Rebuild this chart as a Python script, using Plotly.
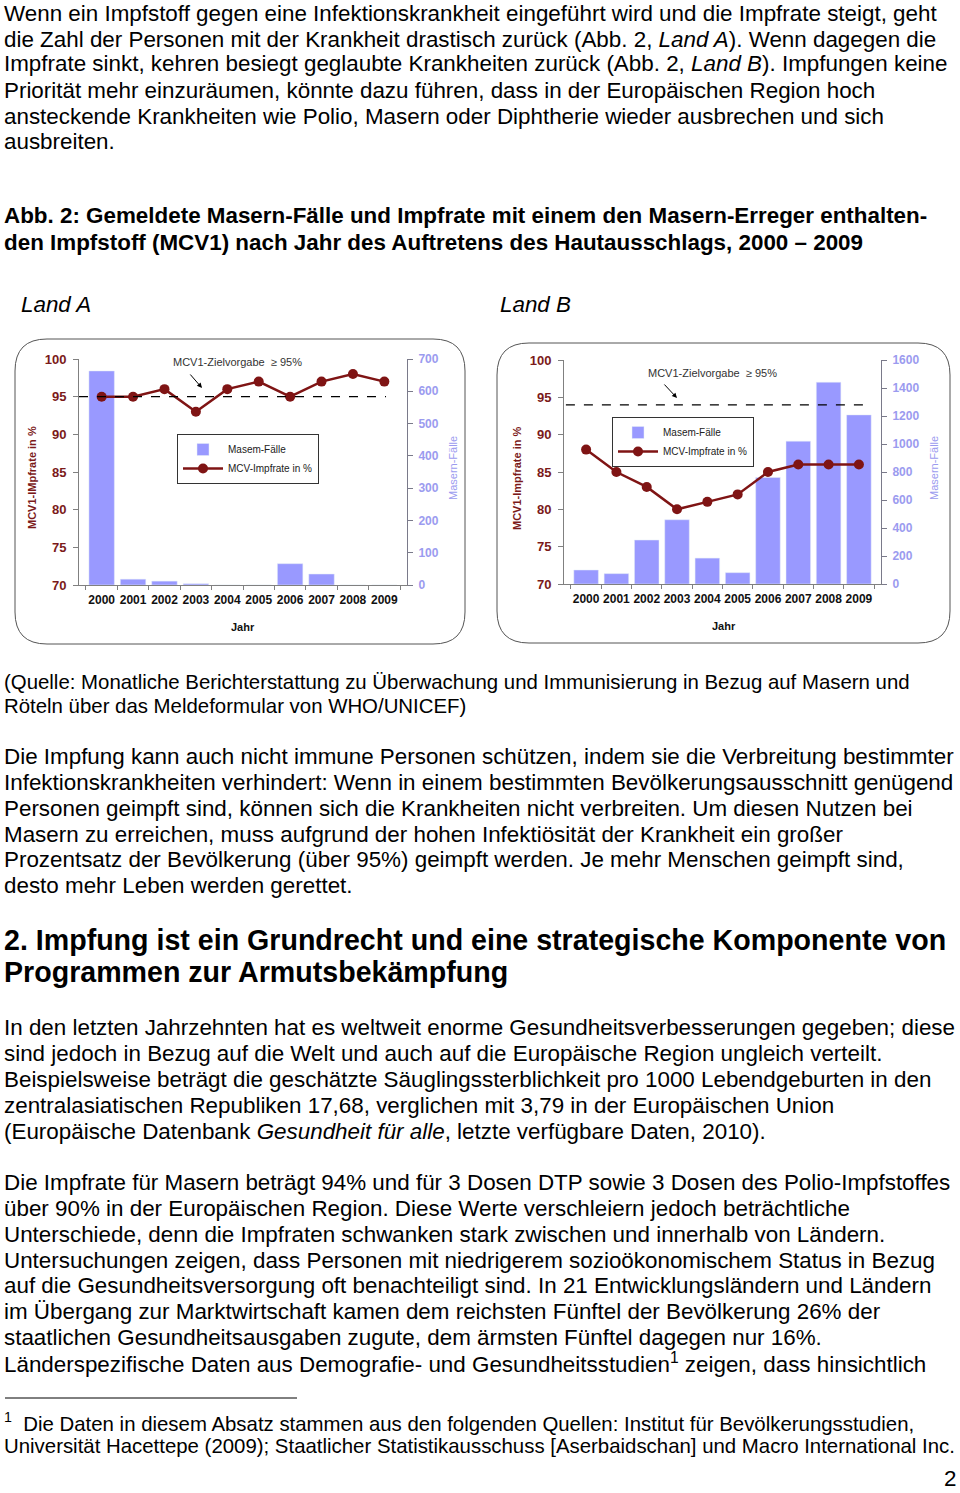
import plotly.graph_objects as go

W, H = 960, 1493
FONT = "Liberation Sans, Arial, sans-serif"

years = ["2000", "2001", "2002", "2003", "2004", "2005", "2006", "2007", "2008", "2009"]
rate_a = [95, 95, 96, 93, 96, 97, 95, 97, 98, 97]
cases_a = [663, 18, 12, 4, 0, 0, 66, 34, 0, 0]
rate_b = [88, 85, 83, 80, 81, 82, 85, 86, 86, 86]
cases_b = [100, 74, 314, 459, 185, 81, 761, 1020, 1441, 1208]
target_a = 95
target_b = 94

BAR = "#9999FF"
LINE = "#7F1414"
LTICK = "#7B1A1A"
RTICK = "#9B9BEF"

def px(x):
    return x / W

def py(y):
    return 1 - y / H

fig = go.Figure()

# ---- Land A ----
fig.add_trace(go.Bar(x=years, y=cases_a, name="Masem-Fälle", marker_color=BAR,
                     xaxis="x", yaxis="y", legend="legend"))
fig.add_trace(go.Scatter(x=years, y=rate_a, name="MCV-Impfrate in %", mode="lines+markers",
                         line=dict(color=LINE, width=2.5), marker=dict(size=10, color=LINE),
                         xaxis="x", yaxis="y2", legend="legend"))
# ---- Land B ----
fig.add_trace(go.Bar(x=years, y=cases_b, name="Masem-Fälle", marker_color=BAR,
                     xaxis="x2", yaxis="y3", legend="legend2"))
fig.add_trace(go.Scatter(x=years, y=rate_b, name="MCV-Impfrate in %", mode="lines+markers",
                         line=dict(color=LINE, width=2.5), marker=dict(size=10, color=LINE),
                         xaxis="x2", yaxis="y4", legend="legend2"))

xcommon = dict(type="category", showline=True, linecolor="#808080", linewidth=1,
               ticks="outside", tickson="boundaries", ticklen=4, tickcolor="#808080",
               showgrid=False, zeroline=False, ticklabelstandoff=4, tickangle=0, automargin=False,
               tickfont=dict(family=FONT, size=12, color="#111111", weight="bold"))
ycases = dict(side="right", showline=True, linecolor="#7a7a8a", linewidth=1, automargin=False,
              ticks="outside", ticklen=5, tickcolor="#7a7a8a", showgrid=False, zeroline=False,
              tickfont=dict(family=FONT, size=12, color=RTICK, weight="bold"), ticklabelstandoff=3)
yrate = dict(side="left", showline=True, linecolor="#808080", linewidth=1, automargin=False,
             ticks="outside", ticklen=5, tickcolor="#808080", showgrid=False, zeroline=False,
             range=[70, 100], dtick=5,
             tickfont=dict(family=FONT, size=13, color=LTICK, weight="bold"), ticklabelstandoff=4)

fig.update_layout(
    width=W, height=H, autosize=False,
    margin=dict(l=0, r=0, t=0, b=0, pad=0, autoexpand=False),
    paper_bgcolor="white", plot_bgcolor="rgba(0,0,0,0)",
    bargap=0.19,
    xaxis=dict(xcommon, domain=[px(79), px(407)], anchor="y"),
    yaxis=dict(ycases, domain=[py(585), py(359)], range=[0, 700], dtick=100, anchor="x"),
    yaxis2=dict(yrate, overlaying="y", anchor="x"),
    xaxis2=dict(xcommon, domain=[px(564), px(881)], anchor="y3"),
    yaxis3=dict(ycases, domain=[py(584), py(360)], range=[0, 1600], dtick=200, anchor="x2"),
    yaxis4=dict(yrate, overlaying="y3", anchor="x2"),
    legend=dict(x=px(177), y=py(434), xanchor="left", yanchor="top",
                bordercolor="#333333", borderwidth=1, bgcolor="white",
                font=dict(family=FONT, size=10, color="#222222"), tracegroupgap=0,
                itemwidth=40),
    legend2=dict(x=px(612), y=py(417), xanchor="left", yanchor="top",
                 bordercolor="#333333", borderwidth=1, bgcolor="white",
                 font=dict(family=FONT, size=10, color="#222222"), tracegroupgap=0,
                 itemwidth=40),
)

shapes = []

def rrect(x0, y0, x1, y1, r):
    X0, X1 = px(x0), px(x1)
    Y0, Y1 = py(y0), py(y1)
    rx, ry = r / W, r / H
    return (f"M {X0+rx},{Y0} L {X1-rx},{Y0} Q {X1},{Y0} {X1},{Y0-ry} "
            f"L {X1},{Y1+ry} Q {X1},{Y1} {X1-rx},{Y1} L {X0+rx},{Y1} "
            f"Q {X0},{Y1} {X0},{Y1+ry} L {X0},{Y0-ry} Q {X0},{Y0} {X0+rx},{Y0} Z")

shapes.append(dict(type="path", xref="paper", yref="paper", path=rrect(15, 339, 465, 644, 32),
                   line=dict(color="#555555", width=1), layer="below"))
shapes.append(dict(type="path", xref="paper", yref="paper", path=rrect(497, 343, 950, 643, 32),
                   line=dict(color="#555555", width=1), layer="below"))
# target dashed lines
shapes.append(dict(type="line", xref="x domain", yref="y2", x0=0, x1=0.936, y0=target_a, y1=target_a,
                   line=dict(color="black", width=1.2, dash="dash")))
shapes.append(dict(type="line", xref="x2 domain", yref="y4", x0=0.006, x1=0.965, y0=target_b, y1=target_b,
                   line=dict(color="black", width=1.2, dash="dash")))
# footnote rule
shapes.append(dict(type="line", xref="paper", yref="paper", x0=px(5), x1=px(297), y0=py(1398), y1=py(1398),
                   line=dict(color="black", width=1)))
fig.update_layout(shapes=shapes)

ann = []

BODY = 22.4

def text(x, y, t, size=BODY, bold=False, italic=False, anchor="left", color="black", angle=0,
         vanchor="middle"):
    if italic:
        t = f"<i>{t}</i>"
    ann.append(dict(x=px(x), y=py(y), xref="paper", yref="paper", text=t, showarrow=False,
                    xanchor=anchor, yanchor=vanchor, textangle=angle, borderpad=0,
                    font=dict(family=FONT, size=size, color=color, weight="bold" if bold else "normal")))

para1 = [
    "Wenn ein Impfstoff gegen eine Infektionskrankheit eingeführt wird und die Impfrate steigt, geht",
    "die Zahl der Personen mit der Krankheit drastisch zurück (Abb. 2, <i>Land A</i>). Wenn dagegen die",
    "Impfrate sinkt, kehren besiegt geglaubte Krankheiten zurück (Abb. 2, <i>Land B</i>). Impfungen keine",
    "Priorität mehr einzuräumen, könnte dazu führen, dass in der Europäischen Region hoch",
    "ansteckende Krankheiten wie Polio, Masern oder Diphtherie wieder ausbrechen und sich",
    "ausbreiten.",
]
para1_y = [13, 39, 64, 90, 116, 142]
caption = [
    "Abb. 2: Gemeldete Masern-Fälle und Impfrate mit einem den Masern-Erreger enthalten-",
    "den Impfstoff (MCV1) nach Jahr des Auftretens des Hautausschlags, 2000 – 2009",
]
caption_y = [216, 242]
source = [
    "(Quelle: Monatliche Berichterstattung zu Überwachung und Immunisierung in Bezug auf Masern und",
    "Röteln über das Meldeformular von WHO/UNICEF)",
]
source_y = [682, 706]
para2 = [
    "Die Impfung kann auch nicht immune Personen schützen, indem sie die Verbreitung bestimmter",
    "Infektionskrankheiten verhindert: Wenn in einem bestimmten Bevölkerungsausschnitt genügend",
    "Personen geimpft sind, können sich die Krankheiten nicht verbreiten. Um diesen Nutzen bei",
    "Masern zu erreichen, muss aufgrund der hohen Infektiösität der Krankheit ein großer",
    "Prozentsatz der Bevölkerung (über 95%) geimpft werden. Je mehr Menschen geimpft sind,",
    "desto mehr Leben werden gerettet.",
]
para2_y = [756, 782, 808, 834, 860, 885]
heading = [
    "2. Impfung ist ein Grundrecht und eine strategische Komponente von",
    "Programmen zur Armutsbekämpfung",
]
heading_y = [940, 972]
para3 = [
    "In den letzten Jahrzehnten hat es weltweit enorme Gesundheitsverbesserungen gegeben; diese",
    "sind jedoch in Bezug auf die Welt und auch auf die Europäische Region ungleich verteilt.",
    "Beispielsweise beträgt die geschätzte Säuglingssterblichkeit pro 1000 Lebendgeburten in den",
    "zentralasiatischen Republiken 17,68, verglichen mit 3,79 in der Europäischen Union",
    "(Europäische Datenbank <i>Gesundheit für alle</i>, letzte verfügbare Daten, 2010).",
]
para3_y = [1027, 1053, 1079, 1105, 1131]
para4 = [
    "Die Impfrate für Masern beträgt 94% und für 3 Dosen DTP sowie 3 Dosen des Polio-Impfstoffes",
    "über 90% in der Europäischen Region. Diese Werte verschleiern jedoch beträchtliche",
    "Unterschiede, denn die Impfraten schwanken stark zwischen und innerhalb von Ländern.",
    "Untersuchungen zeigen, dass Personen mit niedrigerem sozioökonomischem Status in Bezug",
    "auf die Gesundheitsversorgung oft benachteiligt sind. In 21 Entwicklungsländern und Ländern",
    "im Übergang zur Marktwirtschaft kamen dem reichsten Fünftel der Bevölkerung 26% der",
    "staatlichen Gesundheitsausgaben zugute, dem ärmsten Fünftel dagegen nur 16%.",
    "Länderspezifische Daten aus Demografie- und Gesundheitsstudien<sup>1</sup> zeigen, dass hinsichtlich",
]
para4_y = [1182, 1208, 1234, 1260, 1285, 1311, 1337, 1363]
footnote = [
    "<sup>1</sup>  Die Daten in diesem Absatz stammen aus den folgenden Quellen: Institut für Bevölkerungsstudien,",
    "Universität Hacettepe (2009); Staatlicher Statistikausschuss [Aserbaidschan] und Macro International Inc.",
]
footnote_y = [1422, 1446]

for lines, ys, kw in [(para1, para1_y, {}), (caption, caption_y, dict(bold=True)),
                      (source, source_y, dict(size=20.4)), (para2, para2_y, {}),
                      (heading, heading_y, dict(bold=True, size=28.6)),
                      (para3, para3_y, {}), (para4, para4_y, {}),
                      (footnote, footnote_y, dict(size=20.4))]:
    for t, y in zip(lines, ys):
        text(3, y, t, **kw)

text(20, 304, "Land A", italic=True)
text(499, 304, "Land B", italic=True)
text(957, 1492, "2", anchor="right", vanchor="bottom")

# chart texts
text(32, 478, "MCV1-IMpfrate in %", size=11, bold=True, color=LTICK, anchor="center", angle=-90)
text(517, 478, "MCV1-Impfrate in %", size=11, bold=True, color=LTICK, anchor="center", angle=-90)
text(453, 468, "Masern-Fälle", size=11, color=RTICK, anchor="center", angle=-90)
text(934, 468, "Masern-Fälle", size=11, color=RTICK, anchor="center", angle=-90)
text(243, 627, "Jahr", size=11, bold=True, color="#111111", anchor="center")
text(724, 626, "Jahr", size=11, bold=True, color="#111111", anchor="center")
text(237, 362, "MCV1-Zielvorgabe  ≥ 95%", size=11, color="#333333", anchor="center")
text(712, 373, "MCV1-Zielvorgabe  ≥ 95%", size=11, color="#333333", anchor="center")

for (tx, ty, hx, hy) in [(189, 373, 202, 388), (663, 383, 677, 398)]:
    ann.append(dict(x=px(hx), y=py(hy), xref="paper", yref="paper", text="", showarrow=True,
                    ax=tx - hx, ay=ty - hy, arrowhead=2, arrowsize=1, arrowwidth=1,
                    arrowcolor="black"))

fig.update_layout(annotations=ann)
fig.write_html(
    "out.html",
    config={"displayModeBar": False},
    post_script=(
        "document.documentElement.style.margin='0';document.documentElement.style.overflow='hidden';"
        "document.body.style.margin='0';document.body.style.overflow='hidden';"
        "var gd=document.getElementById('{plot_id}');"
        "gd.style.position='fixed';gd.style.top='0px';gd.style.left='0px';"
    ),
)
